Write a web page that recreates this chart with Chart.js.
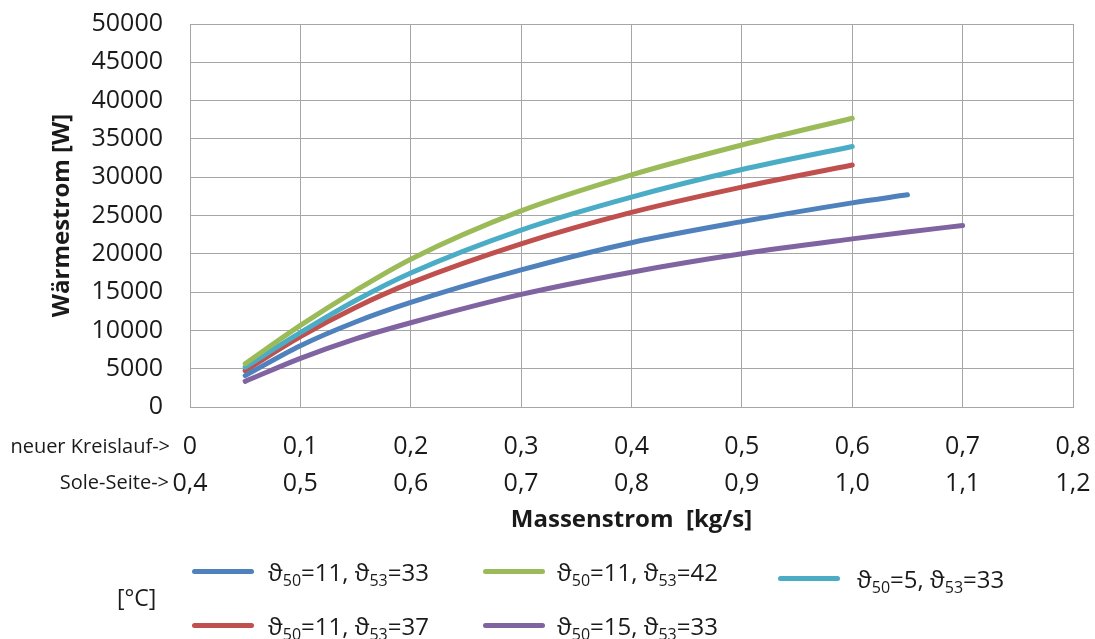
<!DOCTYPE html>
<html>
<head>
<meta charset="utf-8">
<script src="https://cdn.jsdelivr.net/npm/chart.js@4"></script>
<style>
    body { margin: 0; background: #fff; }
    #wrap { position: relative; width: 1095px; height: 639px; font-family: 'Open Sans', 'Noto Sans', sans-serif; color: #1a1a1a; }
    #chart { position: absolute; left: 0; top: 0; }
    .unit { position: absolute; left: 117px; top: 581px; font-size: 23px; }
    .item { position: absolute; height: 30px; }
    .item .swatch { position: absolute; left: 0; top: 12px; width: 62px; height: 5px; border-radius: 3px; }
    .item .txt { position: absolute; top: 0; white-space: nowrap; font-size: 24px; line-height: 30px; }
    .item sub { font-size: 16px; vertical-align: -5px; line-height: 0; }
</style>
</head>
<body>
<div id="wrap">
    <canvas id="chart" width="1095" height="639"></canvas>
    <div class="unit">[°C]</div>
    <div id="legend"></div>
</div>
<script>
// Massenstrom (neuer Kreislauf) in kg/s
const massFlow = [0.05, 0.1, 0.15, 0.2, 0.3, 0.4, 0.5, 0.6, 0.65, 0.7];

// Wärmestrom in W
const blueValues   = [4100, 8000, 11100, 13650, 17900, 21450, 24200, 26650, 27700, null];
const greenValues  = [5650, 10650, 15200, 19300, 25600, 30300, 34200, 37700, null, null];
const cyanValues   = [5200, 9700, 13900, 17500, 23100, 27400, 31000, 34000, null, null];
const redValues    = [4750, 9200, 13000, 16200, 21300, 25400, 28700, 31600, null, null];
const purpleValues = [3350, 6350, 8900, 11000, 14700, 17600, 20000, 21950, 22850, 23700];

const theta50 = [11, 11, 5, 11, 15];
const theta53 = [33, 42, 33, 37, 33];

const tickLabelsNew  = ['0', '0,1', '0,2', '0,3', '0,4', '0,5', '0,6', '0,7', '0,8'];
const tickLabelsSole = ['0,4', '0,5', '0,6', '0,7', '0,8', '0,9', '1,0', '1,1', '1,2'];

const colors = ['#4f81bd', '#9bbb59', '#4bacc6', '#c0504d', '#8064a2'];
const seriesValues = [blueValues, greenValues, cyanValues, redValues, purpleValues];

// legend slots: [line left, text left, row centre]
const legendSlots = [
    [192, 268, 572], [483, 557, 572], [778, 857, 579],
    [192, 268, 626], [483, 557, 626]
];

const gridColor = '#a6a6a6';

Chart.defaults.font.family = "'Open Sans', 'Noto Sans', sans-serif";
Chart.defaults.color = '#1a1a1a';

const datasets = seriesValues.map((values, i) => ({
    label: `ϑ50=${theta50[i]}, ϑ53=${theta53[i]}`,
    data: massFlow.map((x, j) => ({ x: x, y: values[j] })),
    borderColor: colors[i],
    backgroundColor: colors[i],
    borderWidth: 5,
    borderCapStyle: 'round',
    pointRadius: 0,
    cubicInterpolationMode: 'monotone',
    spanGaps: false
}));

const sideLabels = {
    id: 'sideLabels',
    afterDraw(chart) {
        const c = chart.ctx;
        const xs = chart.scales.x;
        c.save();
        c.font = "20px 'Open Sans', 'Noto Sans', sans-serif";
        c.fillStyle = '#1a1a1a';
        c.textAlign = 'right';
        c.textBaseline = 'middle';
        c.fillText('neuer Kreislauf->', chart.chartArea.left - 20, xs.top + 40);
        c.fillText('Sole-Seite->', chart.chartArea.left - 21, xs.top + 76);
        c.restore();
    }
};

new Chart(document.getElementById('chart'), {
    type: 'line',
    data: { datasets: datasets },
    plugins: [sideLabels],
    options: {
        responsive: false,
        animation: false,
        layout: { padding: { left: 44, right: 22, top: 24, bottom: 100 } },
        plugins: { legend: { display: false }, tooltip: { enabled: false } },
        scales: {
            x: {
                type: 'linear',
                min: 0,
                max: 0.8,
                afterFit: (scale) => {
                    scale.height = 132;
                    scale.paddingLeft = 0;
                    scale.paddingRight = 0;
                },
                grid: { color: gridColor, drawTicks: false },
                border: { color: gridColor },
                ticks: {
                    stepSize: 0.1,
                    padding: 22,
                    maxRotation: 0,
                    font: { size: 25, lineHeight: 1.45 },
                    callback: (value) => {
                        const i = Math.round(value * 10);
                        return [tickLabelsNew[i], tickLabelsSole[i]];
                    }
                },
                title: {
                    display: true,
                    text: 'Massenstrom  [kg/s]',
                    font: { size: 24, weight: 'bold' },
                    padding: { top: 4, bottom: 4 }
                }
            },
            y: {
                min: 0,
                max: 50000,
                afterFit: (scale) => {
                    scale.width = 146;
                    scale.paddingTop = 0;
                    scale.paddingBottom = 0;
                },
                grid: { color: gridColor, drawTicks: false },
                border: { color: gridColor },
                ticks: {
                    stepSize: 5000,
                    padding: 27,
                    font: { size: 25 },
                    callback: (value) => String(value)
                },
                title: {
                    display: true,
                    text: 'Wärmestrom [W]',
                    font: { size: 24, weight: 'bold' },
                    padding: { top: 4, bottom: 4 }
                }
            }
        }
    }
});

const legendEl = document.getElementById('legend');
datasets.forEach((ds, i) => {
    const [lineX, textX, cy] = legendSlots[i];
    const item = document.createElement('div');
    item.className = 'item';
    item.style.left = lineX + 'px';
    item.style.top = (cy - 15) + 'px';
    item.innerHTML =
        `<span class="swatch" style="background:${ds.borderColor}"></span>` +
        `<span class="txt" style="left:${textX - lineX}px">ϑ<sub>50</sub>=${theta50[i]}, ϑ<sub>53</sub>=${theta53[i]}</span>`;
    legendEl.appendChild(item);
});
</script>
</body>
</html>
